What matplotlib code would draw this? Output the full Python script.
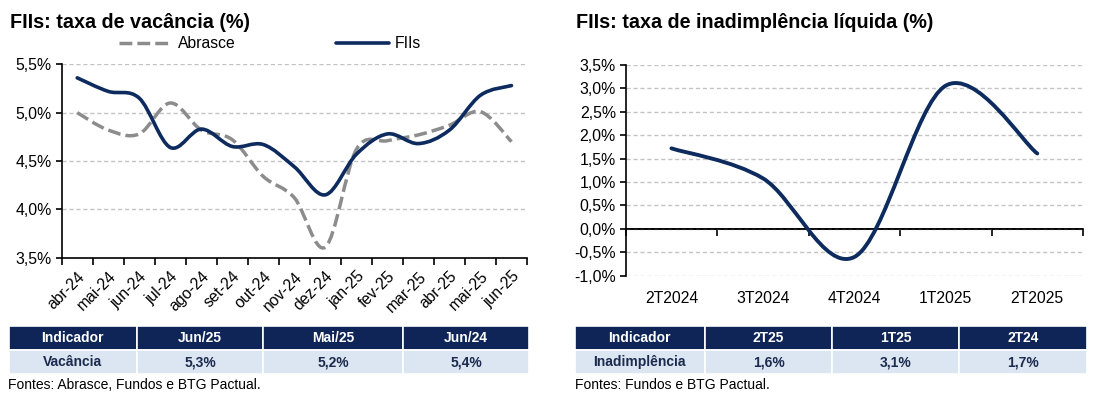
import numpy as np
import matplotlib
matplotlib.use('Agg')
import matplotlib.pyplot as plt
from matplotlib.path import Path
from matplotlib.patches import PathPatch
from matplotlib.lines import Line2D
from matplotlib.ticker import FuncFormatter, MultipleLocator

plt.rcParams['font.family'] = ['Liberation Sans', 'DejaVu Sans']

# dados - vacancia
meses = ['abr-24', 'mai-24', 'jun-24', 'jul-24', 'ago-24', 'set-24', 'out-24', 'nov-24',
         'dez-24', 'jan-25', 'fev-25', 'mar-25', 'abr-25', 'mai-25', 'jun-25']
abrasce = [5.00, 4.82, 4.78, 5.10, 4.82, 4.72, 4.34, 4.12, 3.61, 4.62, 4.71, 4.77, 4.87, 5.01, 4.70]
fiis = [5.36, 5.22, 5.15, 4.64, 4.83, 4.65, 4.67, 4.44, 4.15, 4.57, 4.78, 4.68, 4.82, 5.18, 5.28]

# dados - inadimplencia
trimestres = ['2T2024', '3T2024', '4T2024', '1T2025', '2T2025']
inadimplencia = [1.72, 1.08, -0.60, 3.06, 1.61]

# tabelas
cab_vac = ['Indicador', 'Jun/25', 'Mai/25', 'Jun/24']
lin_vac = ['Vacância', '5,3%', '5,2%', '5,4%']
cab_inad = ['Indicador', '2T25', '1T25', '2T24']
lin_inad = ['Inadimplência', '1,6%', '3,1%', '1,7%']

NAVY = '#0d2b5e'
GRAY = '#8c8c8c'
HEAD = '#0f2557'
ROW = '#dce6f2'
W, H = 1093, 393


def curva(x, y):
    # curva suavizada (bezier tipo catmull-rom), como o "smooth line" do Excel
    x = np.asarray(x, float)
    y = np.asarray(y, float)
    px = np.r_[x[0], x, x[-1]]
    py = np.r_[y[0], y, y[-1]]
    verts = [(x[0], y[0])]
    codes = [Path.MOVETO]
    for i in range(len(x) - 1):
        c1 = (x[i] + (px[i + 2] - px[i]) / 6, y[i] + (py[i + 2] - py[i]) / 6)
        c2 = (x[i + 1] - (px[i + 3] - px[i + 1]) / 6, y[i + 1] - (py[i + 3] - py[i + 1]) / 6)
        verts += [c1, c2, (x[i + 1], y[i + 1])]
        codes += [Path.CURVE4] * 3
    return Path(verts, codes)


def pct(v, pos):
    return f'{v:.1f}%'.replace('.', ',')


def eixo(x0, x1, ytop, ybot):
    return fig.add_axes([x0 / W, 1 - ybot / H, (x1 - x0) / W, (ybot - ytop) / H])


def estilo(ax):
    for s in ['top', 'right']:
        ax.spines[s].set_visible(False)
    ax.spines['left'].set_linewidth(1.2)
    ax.spines['bottom'].set_linewidth(1.2)
    ax.yaxis.set_major_locator(MultipleLocator(0.5))
    ax.yaxis.set_major_formatter(FuncFormatter(pct))
    ax.yaxis.grid(True, ls=(0, (3, 2)), color='#c4c4c4', lw=1)
    ax.set_axisbelow(True)
    ax.tick_params(axis='y', length=4, width=1.2, labelsize=11.4, pad=3)


def tabela(x0, x1, ytop, ybot, cab, lin, larg):
    axt = eixo(x0, x1, ytop, ybot)
    axt.axis('off')
    tbl = axt.table(cellText=[cab, lin], colWidths=larg, cellLoc='center', bbox=[0, 0, 1, 1])
    tbl.auto_set_font_size(False)
    tbl.set_fontsize(10)
    for (r, c), cell in tbl.get_celld().items():
        cell.set_edgecolor('white')
        cell.set_linewidth(1.2)
        if r == 0:
            cell.set_facecolor(HEAD)
            cell.get_text().set_color('white')
        else:
            cell.set_facecolor(ROW)
            cell.get_text().set_color('#1b2a4e')
        cell.get_text().set_fontweight('bold')


fig = plt.figure(figsize=(W / 100, H / 100), dpi=100)

# ---- grafico 1: vacancia
ax1 = eixo(61.7, 527, 64.3, 257.7)
x1 = np.arange(len(meses))
ax1.add_patch(PathPatch(curva(x1, abrasce), fill=False, edgecolor=GRAY, lw=2.5,
                        linestyle=(0, (3.7, 1.45)), capstyle='butt'))
ax1.add_patch(PathPatch(curva(x1, fiis), fill=False, edgecolor=NAVY, lw=2.6,
                        capstyle='round', joinstyle='round'))
ax1.set_xlim(-0.5, len(meses) - 0.5)
ax1.set_ylim(3.5, 5.5)
estilo(ax1)
ax1.set_xticks(x1)
ax1.set_xticklabels(meses, rotation=45, ha='right', rotation_mode='anchor', fontsize=11.3)
ax1.tick_params(axis='x', which='major', length=0, pad=8)
ax1.set_xticks(np.arange(-0.5, len(meses)), minor=True)
ax1.tick_params(axis='x', which='minor', length=5, width=1.2)

hand = [Line2D([], [], color=GRAY, lw=2.5, ls=(0, (3.7, 1.45))),
        Line2D([], [], color=NAVY, lw=2.6, solid_capstyle='round')]
fig.legend(hand, ['Abrasce', 'FIIs'], loc='center left', bbox_to_anchor=(119 / W, 1 - 44 / H),
           ncol=2, frameon=False, fontsize=11.3, handlelength=3.4, handletextpad=0.35,
           columnspacing=6.4, borderpad=0, borderaxespad=0)

# ---- grafico 2: inadimplencia
ax2 = eixo(625.7, 1083, 65, 275.7)
x2 = np.arange(len(trimestres))
ax2.add_patch(PathPatch(curva(x2, inadimplencia), fill=False, edgecolor=NAVY, lw=2.8,
                        capstyle='round', joinstyle='round', zorder=3))
ax2.set_xlim(-0.5, len(trimestres) - 0.5)
ax2.set_ylim(-1.0, 3.5)
estilo(ax2)
ax2.spines['bottom'].set_visible(False)
ax2.set_xticks(x2)
ax2.set_xticklabels(trimestres, fontsize=11.3)
ax2.tick_params(axis='x', length=0, pad=11)
ax2.axhline(0, color='black', lw=1.2, zorder=2)
zero = (0 - ax2.get_ylim()[0]) / (ax2.get_ylim()[1] - ax2.get_ylim()[0])
sec = ax2.secondary_xaxis(zero)
sec.set_xticks(np.arange(-0.5, len(trimestres)))
sec.set_xticklabels([])
sec.tick_params(axis='x', length=5, width=1.2)
sec.spines['bottom'].set_linewidth(1.2)

# ---- titulos
fig.text(10 / W, 1 - 28.5 / H, 'FIIs: taxa de vacância (%)', fontsize=14.2, fontweight='bold',
         va='baseline')
fig.text(576 / W, 1 - 28.5 / H, 'FIIs: taxa de inadimplência líquida (%)', fontsize=14.2,
         fontweight='bold', va='baseline')

# ---- tabelas
tabela(9, 529, 325.7, 374.3, cab_vac, lin_vac, [127.7, 126.6, 140, 125.7])
tabela(574.7, 1087, 325.7, 374.3, cab_inad, lin_inad, [130, 127.6, 127, 127.7])

fig.text(8 / W, 1 - 385 / H, 'Fontes: Abrasce, Fundos e BTG Pactual.', fontsize=10, va='center')
fig.text(575 / W, 1 - 385 / H, 'Fontes: Fundos e BTG Pactual.', fontsize=10, va='center')

fig.savefig('out.png', dpi=100)
